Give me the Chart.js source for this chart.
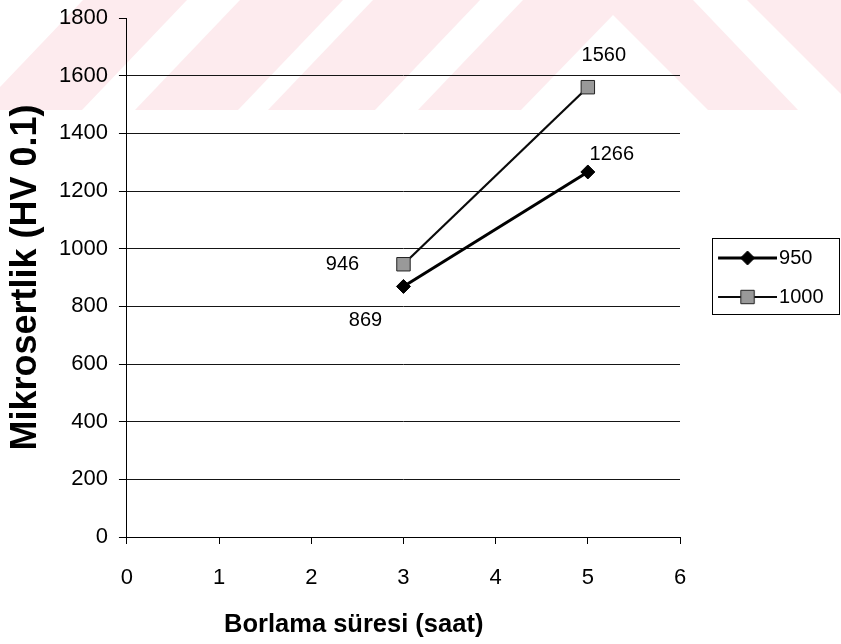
<!DOCTYPE html>
<html>
<head>
<meta charset="utf-8">
<title>Mikrosertlik</title>
<style>
  html, body { margin: 0; padding: 0; background: #fff; }
  #wrap { width: 841px; height: 644px; }
  canvas { display: block; }
</style>
<script src="https://cdn.jsdelivr.net/npm/chart.js@4.4.1/dist/chart.umd.min.js"></script>
</head>
<body>
<div id="wrap"><canvas id="chart" width="841" height="644"></canvas></div>
<script>
// Borlama süresi (saat) and the measured micro-hardness for each temperature
const durations = [3, 5];
const hv950 = [869, 1266];
const hv1000 = [946, 1560];
const seriesNames = ['950', '1000'];
const xTicks = [0, 1, 2, 3, 4, 5, 6];
const yTicks = [0, 200, 400, 600, 800, 1000, 1200, 1400, 1600, 1800];
const xTitleText = 'Borlama süresi (saat)';
const yTitleText = 'Mikrosertlik (HV 0.1)';

const FONT = "'Liberation Sans', Arial, Helvetica, sans-serif";
Chart.defaults.font.family = FONT;
Chart.defaults.color = '#000';

// where each value label sits relative to its point (dx, dy in px)
const labelOffsets = [
  [[-38, 34], [24, -17]],
  [[-61, 0], [16, -32]]
];

function toPoints(xs, ys) {
  return xs.map((x, i) => ({ x: x, y: ys[i] }));
}

const datasets = [
  {
    label: seriesNames[0],
    data: toPoints(durations, hv950),
    borderColor: '#000',
    borderWidth: 3,
    pointStyle: 'rectRot',
    pointRadius: 7,
    pointBackgroundColor: '#000',
    pointBorderColor: '#000',
    pointBorderWidth: 1,
    tension: 0
  },
  {
    label: seriesNames[1],
    data: toPoints(durations, hv1000),
    borderColor: '#0a0a0a',
    borderWidth: 2.2,
    pointStyle: 'rect',
    pointRadius: 9.5,
    pointBackgroundColor: '#999',
    pointBorderColor: '#222',
    pointBorderWidth: 1,
    tension: 0
  }
];

// legend sample: a short line with the series marker in its middle
function legendSwatch(ds) {
  const c = document.createElement('canvas');
  c.width = 86; c.height = 20;
  const g = c.getContext('2d');
  g.strokeStyle = ds.borderColor;
  g.lineWidth = ds.borderWidth;
  g.beginPath(); g.moveTo(27, 10); g.lineTo(86, 10); g.stroke();
  const cx = 56.5, cy = 10, r = ds.pointRadius;
  g.fillStyle = ds.pointBackgroundColor;
  g.strokeStyle = ds.pointBorderColor;
  g.lineWidth = ds.pointBorderWidth;
  g.beginPath();
  if (ds.pointStyle === 'rectRot') {
    g.moveTo(cx - r, cy); g.lineTo(cx, cy - r); g.lineTo(cx + r, cy); g.lineTo(cx, cy + r);
    g.closePath();
  } else {
    const h = r * Math.SQRT1_2;
    g.rect(cx - h, cy - h, 2 * h, 2 * h);
  }
  g.fill(); g.stroke();
  return c;
}
const swatches = datasets.map(legendSwatch);

// pale striped emblem along the top of the page
const backdrop = {
  id: 'backdrop',
  beforeDraw(chart) {
    const ctx = chart.ctx;
    ctx.save();
    ctx.fillStyle = '#fff';
    ctx.fillRect(0, 0, chart.width, chart.height);
    ctx.fillStyle = '#fdebee';
    const shapes = [
      [[83, 0], [187, 0], [82, 110], [-22, 110]],
      [[240, 0], [343, 0], [238, 110], [135, 110]],
      [[373, 0], [480, 0], [375, 110], [268, 110]],
      [[523, 0], [693, 0], [798, 110], [708, 110], [613, 15], [521, 110], [418, 110]],
      [[747, 0], [841, 0], [841, 94]]
    ];
    shapes.forEach(s => {
      ctx.beginPath();
      s.forEach((p, i) => (i ? ctx.lineTo(p[0], p[1]) : ctx.moveTo(p[0], p[1])));
      ctx.closePath();
      ctx.fill();
    });
    ctx.restore();
  }
};

// numeric value next to every point
const valueLabels = {
  id: 'valueLabels',
  afterDatasetsDraw(chart) {
    const ctx = chart.ctx;
    ctx.save();
    ctx.font = '20px ' + FONT;
    ctx.fillStyle = '#000';
    ctx.textAlign = 'center';
    ctx.textBaseline = 'middle';
    chart.data.datasets.forEach((ds, i) => {
      chart.getDatasetMeta(i).data.forEach((pt, j) => {
        const off = labelOffsets[i][j];
        ctx.fillText(String(ds.data[j].y), pt.x + off[0], pt.y + off[1]);
      });
    });
    ctx.restore();
  }
};

// x-axis caption and the frame around the legend
const decorations = {
  id: 'decorations',
  afterDraw(chart) {
    const ctx = chart.ctx;
    const area = chart.chartArea;
    ctx.save();
    ctx.font = 'bold 25.5px ' + FONT;
    ctx.fillStyle = '#000';
    ctx.textAlign = 'center';
    ctx.textBaseline = 'middle';
    ctx.fillText(xTitleText, area.left + area.width * 0.41, chart.height - 19);

    const hb = chart.legend && chart.legend.legendHitBoxes;
    if (hb && hb.length) {
      const first = hb[0], last = hb[hb.length - 1];
      const left = Math.round(first.left + 13) + 0.5;
      const right = chart.width - 1.5;
      const top = Math.round(first.top + first.height / 2 - 20) + 0.5;
      const bottom = Math.round(last.top + last.height / 2 + 17) + 0.5;
      ctx.strokeStyle = '#000';
      ctx.lineWidth = 1;
      ctx.strokeRect(left, top, right - left, bottom - top);
    }
    ctx.restore();
  }
};

const plainNumber = v => String(v);

new Chart(document.getElementById('chart'), {
  type: 'line',
  data: { datasets: datasets },
  plugins: [backdrop, valueLabels, decorations],
  options: {
    responsive: false,
    animation: false,
    layout: { padding: { left: 8, right: 7.5, top: 18, bottom: 31.6 } },
    plugins: {
      tooltip: { enabled: false },
      legend: {
        position: 'right',
        align: 'center',
        fullSize: false,
        labels: {
          usePointStyle: true,
          pointStyleWidth: 70,
          padding: 19,
          color: '#000',
          font: { size: 20, family: FONT },
          generateLabels(chart) {
            return chart.data.datasets.map((ds, i) => ({
              text: ds.label,
              pointStyle: swatches[i],
              datasetIndex: i,
              hidden: false,
              fontColor: '#000',
              fillStyle: 'rgba(0,0,0,0)',
              strokeStyle: 'rgba(0,0,0,0)',
              lineWidth: 0
            }));
          }
        }
      }
    },
    scales: {
      x: {
        type: 'linear',
        min: xTicks[0],
        max: xTicks[xTicks.length - 1],
        ticks: { stepSize: xTicks[1] - xTicks[0], padding: 21, color: '#000', font: { size: 22 }, callback: plainNumber },
        grid: { drawOnChartArea: false, drawTicks: true, tickLength: 7, color: '#000', lineWidth: 1 },
        border: { color: '#000', width: 1 }
      },
      y: {
        min: yTicks[0],
        max: yTicks[yTicks.length - 1],
        ticks: { stepSize: yTicks[1] - yTicks[0], padding: 11, color: '#000', font: { size: 22, lineHeight: 0.5 }, callback: plainNumber },
        grid: {
          color: c => (c.tick && c.tick.value === yTicks[yTicks.length - 1]) ? 'rgba(0,0,0,0)' : '#151515',
          tickColor: '#000',
          tickLength: 8,
          lineWidth: 1
        },
        border: { color: '#000', width: 1 },
        title: {
          display: true,
          text: yTitleText,
          color: '#000',
          font: { size: 36, weight: 'bold', lineHeight: 1 },
          padding: { top: 0, bottom: 4 }
        }
      }
    }
  }
});
</script>
</body>
</html>
